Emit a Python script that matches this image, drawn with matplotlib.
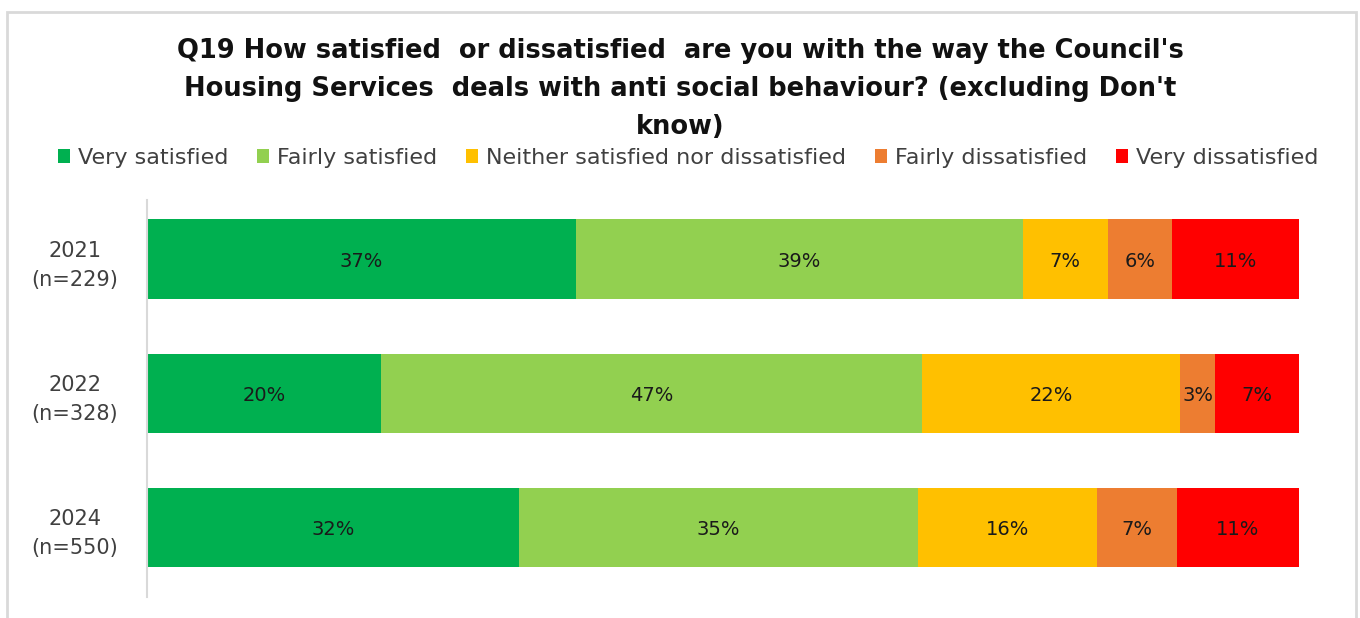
import numpy as np
import matplotlib.pyplot as plt
from matplotlib.patches import Rectangle

plt.rcParams['font.family'] = ['DejaVu Sans']

years = ['2021\n(n=229)', '2022\n(n=328)', '2024\n(n=550)']
responses = ['Very satisfied', 'Fairly satisfied',
             'Neither satisfied nor dissatisfied',
             'Fairly dissatisfied', 'Very dissatisfied']
very_sat = [37.2, 20.3, 32.3]
fairly_sat = [38.8, 47.0, 34.6]
neither = [7.4, 22.4, 15.6]
fairly_dis = [5.6, 3.0, 6.9]
very_dis = [11.0, 7.3, 10.6]
colours = ['#00b050', '#92d050', '#ffc000', '#ed7d31', '#ff0000']

W, H = 1360, 618
fig = plt.figure(figsize=(W / 100, H / 100), dpi=100)

# light grey chart-area frame
fig.patches.append(Rectangle((7 / W, -0.05), 1349 / W, 1.05 - 12 / H,
                             transform=fig.transFigure, fill=False,
                             edgecolor='#d9d9d9', linewidth=2))

ax = fig.add_axes([147 / W, 1 - 597 / H, 1152 / W, 397 / H])

y = np.arange(len(years))
left = np.zeros(len(years))
for name, vals, c in zip(responses,
                         [very_sat, fairly_sat, neither, fairly_dis, very_dis],
                         colours):
    vals = np.array(vals)
    bars = ax.barh(y, vals, left=left, height=0.59, color=c, label=name)
    for b, v in zip(bars, vals):
        ax.text(b.get_x() + b.get_width() / 2,
                b.get_y() + b.get_height() / 2 + 0.02,
                f'{v:.0f}%', ha='center', va='center', fontsize=14,
                color='#1a1a1a')
    left += vals

ax.set_xlim(0, 100)
ax.set_ylim(2.52, -0.44)
ax.set_yticks(y)
ax.set_yticklabels(years, fontsize=15, color='#404040', linespacing=1.55)
for lab in ax.get_yticklabels():
    lab.set_horizontalalignment('center')
    lab.set_multialignment('center')
    lab.set_y(lab.get_position()[1])
ax.set_xticks([])
ax.tick_params(axis='y', length=0, pad=52)
for s in ['top', 'right', 'bottom']:
    ax.spines[s].set_visible(False)
ax.spines['left'].set_color('#d9d9d9')
ax.spines['left'].set_linewidth(1.5)

fig.text(0.5, 1 - 89 / H,
         "Q19 How satisfied  or dissatisfied  are you with the way the Council's\n"
         "Housing Services  deals with anti social behaviour? (excluding Don't\n"
         "know)",
         ha='center', va='center', fontsize=18.5, fontweight='bold',
         color='#111111', linespacing=1.62)

fig.legend(loc='center', bbox_to_anchor=(688 / W, 1 - 158 / H), ncol=5,
           frameon=False, fontsize=16, handlelength=0.55, handleheight=0.55,
           handletextpad=0.35, columnspacing=1.3, labelcolor='#404040')

fig.savefig('out.png', dpi=100)
